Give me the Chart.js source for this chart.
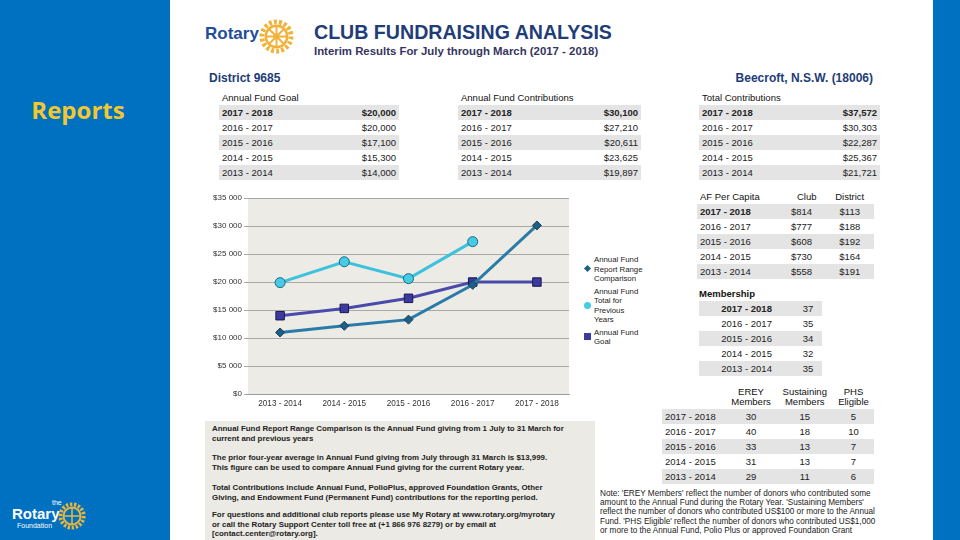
<!DOCTYPE html>
<html>
<head>
<meta charset="utf-8">
<script src="https://cdn.jsdelivr.net/npm/chart.js@4"></script>
<style>
  body { margin: 0; width: 960px; height: 540px; background: #0070C0; position: relative; overflow: hidden; font-family: "Liberation Sans", Arial, sans-serif; }
  .abs { position: absolute; }
  #page { left: 170px; top: 0; width: 763px; height: 540px; background: #fff; }
  #reports { left: 0; top: 93px; width: 156px; text-align: center; color: #F2C832; font: bold 24px "Open Sans", "DejaVu Sans", sans-serif; }
  table { border-collapse: collapse; font-size: 9.5px; color: #222; }
  td, th { padding: 0 3px; height: 15px; line-height: 15px; white-space: nowrap; }
  tr.g td { background: #E4E4E4; }
  th { font-weight: normal; text-align: left; color: #111; }
  .r { text-align: right; }
  .c { text-align: center; }
  .b { font-weight: bold; }
  .hd { font-weight: bold; font-size: 9.5px; color: #111; }
  #chartBox { left: 196px; top: 189px; width: 380px; height: 217px; }
  #legend { left: 584px; top: 255px; width: 70px; font-size: 7.8px; line-height: 9.5px; color: #222; }
  #legend .item { position: relative; padding-left: 10px; margin-bottom: 3px; }
  #legend .mk { position: absolute; left: 0; top: 50%; }
  .note { font-size: 7.9px; line-height: 9.5px; color: #222; font-weight: bold; white-space: nowrap; }
</style>
</head>
<body>
<div id="page" class="abs"></div>
<div id="reports" class="abs">Reports</div>

<!-- header -->
<div class="abs" style="left:205px;top:24px;color:#1F4E9A;font:bold 17px 'Liberation Sans',Arial;">Rotary</div>
<svg class="abs" style="left:259px;top:19px" width="35" height="35" viewBox="0 0 36 36">
  <circle cx="18" cy="18" r="15" fill="none" stroke="#F2B23A" stroke-width="5" stroke-dasharray="3 2.2"/>
  <circle cx="18" cy="18" r="11" fill="none" stroke="#F2B23A" stroke-width="2.5"/>
  <circle cx="18" cy="18" r="3" fill="#F2B23A"/>
  <path d="M18 7 V29 M7 18 H29 M10 10 L26 26 M26 10 L10 26" stroke="#F2B23A" stroke-width="2"/>
</svg>
<div class="abs" style="left:314px;top:21px;color:#223C78;font:bold 19.6px 'Liberation Sans',Arial;">CLUB FUNDRAISING ANALYSIS</div>
<div class="abs" style="left:314px;top:45px;color:#353560;font:bold 11.4px 'Liberation Sans',Arial;">Interim Results For July through March (2017 - 2018)</div>
<div class="abs" style="left:209px;top:71px;color:#223C78;font:bold 12px 'Liberation Sans',Arial;">District 9685</div>
<div class="abs" style="left:700px;top:71px;width:173px;text-align:right;color:#223C78;font:bold 12px 'Liberation Sans',Arial;">Beecroft, N.S.W. (18006)</div>

<div id="tables"></div>

<div id="chartBox" class="abs"><canvas id="fundChart"></canvas></div>
<div id="legend" class="abs"></div>

<div class="abs" style="left:205px;top:421px;width:390px;height:119px;background:#EBEAE4;"></div>
<div class="abs note" style="left:212px;top:424px;">
  <div>Annual Fund Report Range Comparison is the Annual Fund giving from 1 July to 31 March for<br>current and previous years</div>
  <div style="margin-top:10px">The prior four-year average in Annual Fund giving from July through 31 March is $13,999.<br>This figure can be used to compare Annual Fund giving for the current Rotary year.</div>
  <div style="margin-top:11px">Total Contributions include Annual Fund, PolioPlus, approved Foundation Grants, Other<br>Giving, and Endowment Fund (Permanent Fund) contributions for the reporting period.</div>
  <div style="margin-top:8px">For questions and additional club reports please use My Rotary at www.rotary.org/myrotary<br>or call the Rotary Support Center toll free at (+1 866 976 8279) or by email at<br>[contact.center@rotary.org].</div>
</div>
<div class="abs note" style="left:600px;top:489px;font-weight:normal;font-size:8.2px;line-height:9.2px;">Note: 'EREY Members' reflect the number of donors who contributed some<br>amount to the Annual Fund during the Rotary Year. 'Sustaining Members'<br>reflect the number of donors who contributed US$100 or more to the Annual<br>Fund. 'PHS Eligible' reflect the number of donors who contributed US$1,000<br>or more to the Annual Fund, Polio Plus or approved Foundation Grant</div>

<!-- foundation logo -->
<div class="abs" style="left:52px;top:499px;color:#fff;font-size:7px;">the</div>
<div class="abs" style="left:12px;top:505px;color:#fff;font:bold 15px 'Liberation Sans',Arial;">Rotary</div>
<div class="abs" style="left:17px;top:522px;color:#fff;font-size:7px;">Foundation</div>
<svg class="abs" style="left:58px;top:502px" width="28" height="28" viewBox="0 0 36 36">
  <circle cx="18" cy="18" r="15" fill="none" stroke="#E8B53C" stroke-width="5" stroke-dasharray="3 2.2"/>
  <circle cx="18" cy="18" r="11" fill="none" stroke="#E8B53C" stroke-width="2.5"/>
  <path d="M18 7 V29 M7 18 H29" stroke="#E8B53C" stroke-width="2"/>
</svg>

<script>
const years = ["2017 - 2018", "2016 - 2017", "2015 - 2016", "2014 - 2015", "2013 - 2014"];
const goal = ["$20,000", "$20,000", "$17,100", "$15,300", "$14,000"];
const contributions = ["$30,100", "$27,210", "$20,611", "$23,625", "$19,897"];
const totalContrib = ["$37,572", "$30,303", "$22,287", "$25,367", "$21,721"];
const capitaClub = ["$814", "$777", "$608", "$730", "$558"];
const capitaDistrict = ["$113", "$188", "$192", "$164", "$191"];
const membership = ["37", "35", "34", "32", "35"];
const erey = ["30", "40", "33", "31", "29"];
const sustaining = ["15", "18", "13", "13", "11"];
const phs = ["5", "10", "7", "7", "6"];

// chart data
const chartYears = ["2013 - 2014", "2014 - 2015", "2015 - 2016", "2016 - 2017", "2017 - 2018"];
const rangeComparison = [11000, 12200, 13300, 19500, 30100];
const previousYears = [19897, 23625, 20611, 27210, null];
const goalValues = [14000, 15300, 17100, 20000, 20000];
const yTicks = [0, 5000, 10000, 15000, 20000, 25000, 30000, 35000];

function simpleTable(x, y, w, title, vals) {
    let h = '<table class="abs" style="left:' + x + 'px;top:' + y + 'px;width:' + w + 'px"><tr><th>' + title + '</th><th></th></tr>';
    for (let i = 0; i < years.length; i++) {
        h += '<tr class="' + (i % 2 == 0 ? "g" : "") + '"><td class="' + (i == 0 ? "b" : "") + '">' + years[i] + '</td><td class="r ' + (i == 0 ? "b" : "") + '">' + vals[i] + '</td></tr>';
    }
    return h + '</table>';
}

let html = "";
html += simpleTable(219, 90, 180, "Annual Fund Goal", goal);
html += simpleTable(458, 90, 183, "Annual Fund Contributions", contributions);
html += simpleTable(699, 90, 181, "Total Contributions", totalContrib);

// per capita
html += '<table class="abs" style="left:697px;top:189px;width:177px"><tr><th>AF Per Capita</th><th class="c">Club</th><th class="c">District</th></tr>';
for (let i = 0; i < years.length; i++) {
    html += '<tr class="' + (i % 2 == 0 ? "g" : "") + '"><td class="' + (i == 0 ? "b" : "") + '">' + years[i] + '</td><td>' + capitaClub[i] + '</td><td class="c">' + capitaDistrict[i] + '</td></tr>';
}
html += '</table>';

// membership
html += '<div class="abs hd" style="left:699px;top:288px">Membership</div>';
html += '<table class="abs" style="left:699px;top:301px;width:123px">';
for (let i = 0; i < years.length; i++) {
    html += '<tr class="' + (i % 2 == 0 ? "g" : "") + '"><td class="c ' + (i == 0 ? "b" : "") + '">' + years[i] + '</td><td class="c">' + membership[i] + '</td></tr>';
}
html += '</table>';

// erey
const two = (a, b) => '<div style="line-height:10px">' + a + '</div><div style="line-height:10px">' + b + '</div>';
html += '<table class="abs" style="left:662px;top:385px;width:212px"><tr><th style="height:24px"></th><th class="c">' + two("EREY", "Members") + '</th><th class="c">' + two("Sustaining", "Members") + '</th><th class="c">' + two("PHS", "Eligible") + '</th></tr>';
for (let i = 0; i < years.length; i++) {
    html += '<tr class="' + (i % 2 == 0 ? "g" : "") + '"><td>' + years[i] + '</td><td class="c">' + erey[i] + '</td><td class="c">' + sustaining[i] + '</td><td class="c">' + phs[i] + '</td></tr>';
}
html += '</table>';
document.getElementById("tables").innerHTML = html;

const plotBg = {
    id: "plotBg",
    beforeDraw(chart) {
        const a = chart.chartArea;
        chart.ctx.save();
        chart.ctx.fillStyle = "#ECEBE5";
        chart.ctx.fillRect(a.left, a.top, a.right - a.left, a.bottom - a.top);
        chart.ctx.restore();
    }
};

const datasets = [
    { label: "Annual Fund Report Range Comparison", data: rangeComparison, borderColor: "#2A7BA8", backgroundColor: "#1E5F86", pointStyle: "rectRot", pointRadius: 4.5, pointBorderColor: "#17405C", pointBorderWidth: 1 },
    { label: "Annual Fund Total for Previous Years", data: previousYears, borderColor: "#3CC2DC", backgroundColor: "#45CBE6", pointStyle: "circle", pointRadius: 5, pointBorderColor: "#1D6A7C", pointBorderWidth: 1 },
    { label: "Annual Fund Goal", data: goalValues, borderColor: "#4A4AAA", backgroundColor: "#3A3AA0", pointStyle: "rect", pointRadius: 6, pointBorderColor: "#1A1A4E", pointBorderWidth: 1 }
];
datasets.forEach(d => { d.borderWidth = 3; d.tension = 0; d.pointHoverRadius = d.pointRadius; });

new Chart(document.getElementById("fundChart"), {
    type: "line",
    data: { labels: chartYears, datasets: datasets },
    plugins: [plotBg],
    options: {
        responsive: true,
        maintainAspectRatio: false,
        animation: false,
        layout: { padding: { top: 9, right: 6, left: 0, bottom: 0 } },
        plugins: { legend: { display: false }, tooltip: { enabled: false } },
        scales: {
            x: {
                offset: true,
                grid: { display: false },
                border: { color: "#9A9A9A" },
                ticks: { color: "#333", font: { size: 8.2, family: "Liberation Sans" }, maxRotation: 0, padding: -3 }
            },
            y: {
                min: 0, max: 35000,
                afterFit(scale) { scale.width = 52; },
                afterBuildTicks(scale) { scale.ticks = yTicks.map(v => ({ value: v })); },
                grid: { color: "#A8A8A8", tickLength: 4 },
                border: { display: false },
                ticks: {
                    color: "#333", font: { size: 8, family: "Liberation Sans" }, padding: 2,
                    callback: v => "$" + v.toLocaleString("en-US").replace(",", " ")
                }
            }
        }
    }
});

// html legend built from datasets
const legendLines = [["Annual Fund", "Report Range", "Comparison"], ["Annual Fund", "Total for", "Previous", "Years"], ["Annual Fund", "Goal"]];
let lg = "";
datasets.forEach((d, i) => {
    let mk;
    if (d.pointStyle == "rectRot") mk = '<div class="mk" style="width:5px;height:5px;margin-top:-3px;left:1px;background:' + d.backgroundColor + ';transform:rotate(45deg)"></div>';
    else if (d.pointStyle == "circle") mk = '<div class="mk" style="width:7px;height:7px;margin-top:-4px;border-radius:50%;background:' + d.backgroundColor + '"></div>';
    else mk = '<div class="mk" style="width:7px;height:7px;margin-top:-4px;background:' + d.backgroundColor + '"></div>';
    lg += '<div class="item">' + mk + legendLines[i].join("<br>") + '</div>';
});
document.getElementById("legend").innerHTML = lg;
</script>
</body>
</html>
